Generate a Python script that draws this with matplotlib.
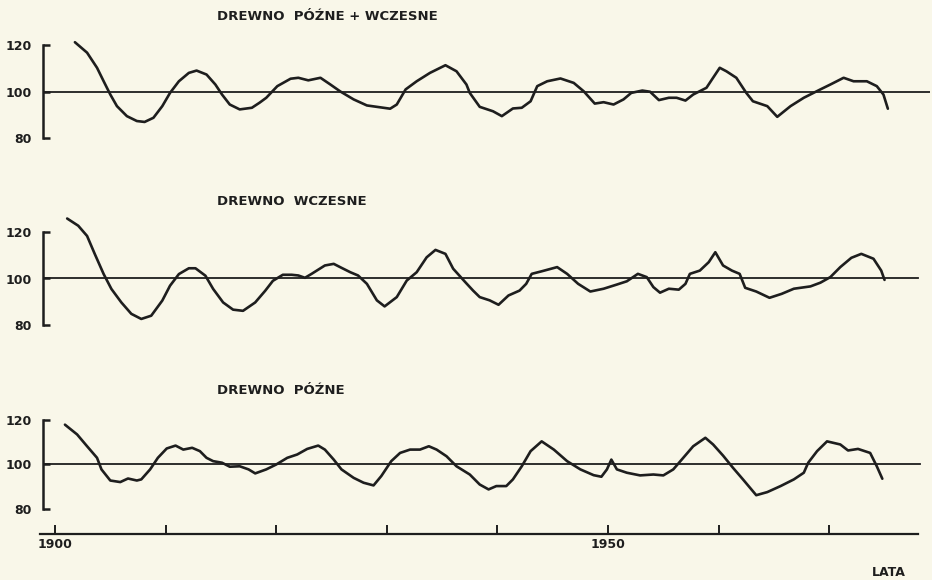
import matplotlib.pyplot as plt
from matplotlib.ticker import FixedLocator, FixedFormatter

# Panel 1: DREWNO PÓŹNE + WCZESNE
years_pw = [1901.8, 1902.9, 1903.8, 1904.4, 1905.0, 1905.6, 1906.5, 1907.4, 1908.1, 1908.9,
            1909.7, 1910.4, 1911.2, 1912.1, 1912.8, 1913.7, 1914.5, 1915.1, 1915.8, 1916.7,
            1917.8, 1918.5, 1919.1,
            1920.1, 1921.3, 1922.0, 1922.9, 1924.0, 1924.9, 1925.8, 1927.0, 1928.2, 1930.3,
            1930.9, 1931.7, 1932.7, 1933.9, 1935.3, 1936.3, 1937.2, 1937.5, 1938.4, 1939.6,
            1940.4, 1941.4, 1942.2, 1943.0, 1943.6, 1944.5, 1945.7, 1946.9, 1947.8, 1948.8,
            1949.6, 1950.5, 1951.4, 1952.1, 1953.1, 1953.8, 1954.6, 1955.5, 1956.2, 1957.0,
            1957.7, 1958.9, 1959.4, 1960.1, 1960.7, 1961.6, 1962.5, 1963.1, 1964.4, 1965.3,
            1966.5, 1967.7, 1969.2, 1970.1, 1971.3, 1972.2, 1973.4, 1974.3, 1974.9, 1975.3]
index_pw = [121.2, 116.7, 110.2, 104.4, 98.7, 93.7, 89.4, 87.3, 86.9, 88.7,
            93.7, 99.4, 104.4, 108.0, 109.0, 107.3, 103.0, 98.7, 94.4, 92.3,
            93.0, 95.2, 97.3,
            102.3, 105.5, 105.9, 104.8, 105.9, 103.0, 100.0, 96.6, 94.0, 92.6,
            94.4, 100.9, 104.4, 108.0, 111.3, 108.7, 103.0, 99.4, 93.4, 91.5,
            89.4, 92.7, 93.0, 95.8, 102.3, 104.4, 105.6, 103.7, 100.1, 94.8,
            95.4, 94.4, 96.6, 99.4, 100.4, 99.9, 96.3, 97.3, 97.3, 96.1,
            98.7, 101.6, 105.2, 110.2, 108.7, 105.9, 99.4, 95.8, 93.7, 89.1,
            93.7, 97.3, 100.9, 103.0, 105.9, 104.4, 104.4, 102.3, 98.7, 92.6]

# Panel 2: DREWNO WCZESNE
years_w = [1901.1, 1902.1, 1902.9, 1903.6, 1904.4, 1905.1, 1906.0, 1906.9, 1907.8, 1908.7,
           1909.7, 1910.4, 1911.2, 1912.1, 1912.7, 1913.6, 1914.3, 1915.2, 1916.1, 1917.0,
           1918.1, 1919.0, 1919.7, 1920.6,
           1921.4, 1922.0, 1922.6, 1923.2, 1924.4, 1925.2, 1925.9, 1926.7, 1927.4, 1928.2,
           1929.1, 1929.8, 1930.9, 1931.8, 1932.7, 1933.6, 1934.4, 1935.3, 1936.0, 1937.1,
           1937.8, 1938.4, 1939.3, 1940.1, 1941.0, 1942.0, 1942.6, 1943.1, 1944.0, 1945.4,
           1946.3, 1947.3, 1948.4, 1949.6, 1950.8, 1951.7, 1952.7, 1953.5, 1954.1, 1954.7,
           1955.5, 1956.4, 1957.0, 1957.4, 1958.3, 1959.1, 1959.7, 1960.4, 1961.2, 1961.9,
           1962.4, 1963.4, 1964.6, 1965.7, 1966.8, 1968.3, 1969.2, 1970.1, 1971.0, 1972.0,
           1972.9, 1974.0, 1974.7, 1975.0]
index_w = [125.8, 122.7, 118.3, 110.5, 101.9, 95.5, 89.7, 84.8, 82.6, 84.0,
           90.5, 96.9, 101.9, 104.4, 104.4, 101.2, 95.5, 89.7, 86.6, 86.1,
           89.7, 94.7, 99.0, 101.6,
           101.6, 101.3, 100.3, 102.0, 105.6, 106.3, 104.6, 102.7, 101.3, 97.7,
           90.6, 88.0, 92.0, 99.1, 102.7, 109.1, 112.3, 110.6, 104.2, 98.4,
           94.8, 92.0, 90.6, 88.7, 92.7, 94.8, 97.7, 102.0, 103.1, 104.9,
           102.0, 97.7, 94.4, 95.6, 97.4, 98.8, 102.0, 100.6, 96.3, 93.9,
           95.6, 95.2, 97.7, 102.0, 103.4, 107.0, 111.3, 105.6, 103.4, 102.0,
           96.0, 94.4, 91.7, 93.4, 95.6, 96.6, 98.2, 100.6, 104.9, 108.9,
           110.6, 108.5, 103.4, 99.4]

# Panel 3: DREWNO PÓŹNE
years_p = [1900.9, 1902.0, 1902.9, 1903.8, 1904.2, 1905.0, 1905.9, 1906.6, 1907.4, 1907.8,
           1908.6, 1909.3, 1910.1, 1910.9, 1911.6, 1912.4, 1913.1, 1913.7, 1914.3, 1915.1,
           1915.8, 1916.7, 1917.5, 1918.1, 1919.1, 1920.0, 1921.0, 1921.9, 1922.8, 1923.8,
           1924.4, 1925.2, 1925.9, 1927.0, 1927.9, 1928.8, 1929.5, 1930.4, 1931.2, 1932.1,
           1933.0, 1933.8, 1934.5, 1935.4, 1936.3, 1937.5, 1938.4, 1939.2, 1939.9, 1940.8,
           1941.4, 1942.2, 1943.0, 1944.0, 1945.1, 1946.3, 1947.5, 1948.7, 1949.4, 1949.9,
           1950.3, 1950.8, 1951.7, 1952.9, 1954.1, 1955.0, 1955.9, 1956.8, 1957.7, 1958.8,
           1959.5, 1960.4, 1961.3, 1962.2, 1963.4, 1964.4, 1965.6, 1966.8, 1967.7, 1968.1,
           1968.9, 1969.8, 1971.0, 1971.7, 1972.6, 1973.7, 1974.3, 1974.8]
index_p = [117.9, 113.5, 108.2, 103.0, 97.8, 92.8, 92.1, 93.7, 92.8, 93.3,
           97.8, 103.0, 107.2, 108.5, 106.7, 107.5, 106.0, 103.0, 101.5, 100.8,
           99.0, 99.2, 97.8, 96.0, 97.8, 100.0, 103.0, 104.5, 107.0, 108.5,
           106.7, 102.2, 97.8, 94.0, 91.8, 90.6, 94.8, 101.5, 105.2, 106.7,
           106.7, 108.2, 106.7, 103.7, 99.2, 95.5, 91.0, 88.8, 90.3, 90.3,
           93.3, 99.2, 106.0, 110.4, 106.7, 101.5, 97.8, 95.2, 94.5, 97.8,
           102.2, 97.8, 96.3, 95.1, 95.5, 95.1, 97.8, 103.0, 108.2, 112.0,
           109.0, 104.0, 98.5, 93.3, 86.2, 87.6, 90.3, 93.3, 96.3, 100.8,
           106.0, 110.4, 109.0, 106.3, 107.0, 105.2, 99.2, 93.6]

titles = ["DREWNO  PÓŹNE + WCZESNE", "DREWNO  WCZESNE", "DREWNO  PÓŹNE"]
y_ticks = [80, 100, 120]
x_ticks = [1900, 1910, 1920, 1930, 1940, 1950, 1960, 1970]
x_labels = ["1900", "", "", "", "", "1950", "", ""]

paper = "#f9f7e9"
ink = "#1e1e1e"
W, H = 932, 580

fig = plt.figure(figsize=(W / 100, H / 100), dpi=100, facecolor=paper)


def px_axes(left, top, right, bottom):
    return fig.add_axes([left / W, 1 - bottom / H, (right - left) / W, (bottom - top) / H])


# pixel boxes: top edge = value 120, bottom edge = value 80 (panel 3 extended for the year axis)
boxes = [(43, 45, 930, 138), (43, 232, 930, 325), (43, 420, 930, 534)]
ref_ends = [1.0, 0.9865, 0.9887]
series = [(years_pw, index_pw), (years_w, index_w), (years_p, index_p)]
title_pos = [(217, 17), (217, 202), (217, 390)]

xlim = (1898.915, 1979.11)

for i, (box, (yrs, vals)) in enumerate(zip(boxes, series)):
    ax = px_axes(*box)
    ax.set_facecolor("none")
    ax.set_xlim(*xlim)
    if i < 2:
        ax.set_ylim(80, 120)
    else:
        ax.set_ylim(68.76, 120)
    for s in ["top", "right"]:
        ax.spines[s].set_visible(False)
    ax.spines["left"].set_bounds(80, 120)
    ax.spines["left"].set_linewidth(1.8)
    ax.spines["left"].set_color(ink)

    ax.axhline(100, xmin=0, xmax=ref_ends[i], color=ink, lw=1.3)
    ax.plot(yrs, vals, color=ink, lw=1.9, clip_on=False,
            solid_capstyle="round", solid_joinstyle="round")

    ax.yaxis.set_major_locator(FixedLocator(y_ticks))
    ax.tick_params(axis="y", direction="in", length=5, width=1.8, color=ink,
                   pad=8, labelsize=9, labelcolor=ink)
    for lab in ax.get_yticklabels():
        lab.set_fontweight("bold")

    if i < 2:
        ax.spines["bottom"].set_visible(False)
        ax.set_xticks([])
    else:
        ax.spines["bottom"].set_bounds(1898.64, 1978.03)
        ax.spines["bottom"].set_linewidth(1.6)
        ax.spines["bottom"].set_color(ink)
        ax.xaxis.set_major_locator(FixedLocator(x_ticks))
        ax.xaxis.set_major_formatter(FixedFormatter(x_labels))
        ax.tick_params(axis="x", direction="in", length=6.5, width=1.4, color=ink,
                       pad=3, labelsize=9, labelcolor=ink)
        for lab in ax.get_xticklabels():
            lab.set_fontweight("bold")

    tx, ty = title_pos[i]
    fig.text(tx / W, 1 - ty / H, titles[i], ha="left", va="center",
             fontsize=9.5, fontweight="bold", color=ink)

fig.text(889 / W, 1 - 572 / H, "LATA", ha="center", va="center",
         fontsize=9, fontweight="bold", color=ink)

fig.savefig("out.png", dpi=100, facecolor=paper)
